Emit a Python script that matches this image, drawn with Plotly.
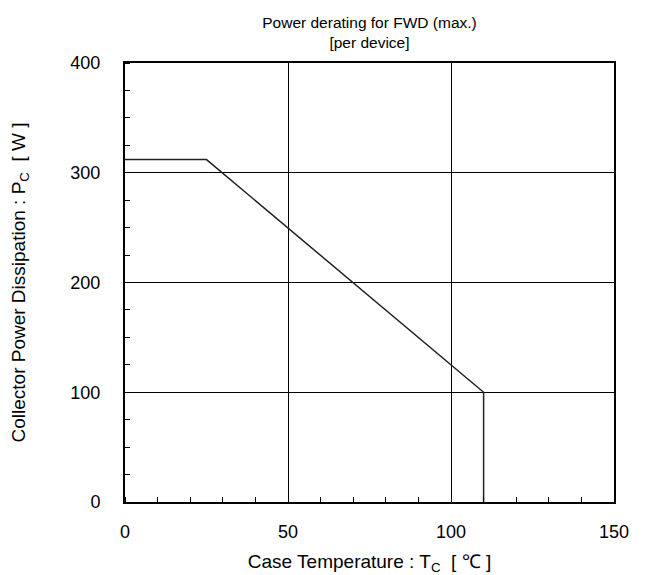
import plotly.graph_objects as go

temp_c = [0, 25, 110, 110]
power_w = [312, 312, 100, 0]
x_ticks = [0, 50, 100, 150]
y_ticks = [0, 100, 200, 300, 400]

fig = go.Figure()
fig.add_trace(go.Scatter(x=temp_c, y=power_w, mode="lines",
                         line=dict(color="#222222", width=1.5), showlegend=False))

font = dict(family="Liberation Sans, Arial, sans-serif", size=16, color="black")
tickfont = dict(family="Liberation Sans, Arial, sans-serif", size=18, color="black")
fig.update_layout(
    width=652, height=575,
    margin=dict(l=125, r=38, t=63, b=73),
    paper_bgcolor="white", plot_bgcolor="white",
    font=font,
    title=dict(text="Power derating for FWD (max.)<br>[per device]", x=0.5667, xanchor="center",
               y=0.952, yanchor="top", font=dict(size=15.5)),
)
fig.update_xaxes(range=[0, 150], tickvals=x_ticks, showgrid=True, gridcolor="black", gridwidth=1,
                 showline=True, linecolor="black", linewidth=2, mirror=True, zeroline=False,
                 ticks="", ticklabelstandoff=12, automargin=False, tickfont=tickfont,
                 minor=dict(dtick=10, ticks="inside", ticklen=5, tickcolor="black", showgrid=False),
                 title=dict(text="Case Temperature : T<sub>C</sub>  [ ℃ ]", standoff=15))
fig.update_yaxes(range=[0, 400], tickvals=y_ticks, showgrid=True, gridcolor="black", gridwidth=1,
                 showline=True, linecolor="black", linewidth=2, mirror=True, zeroline=False,
                 ticks="", ticklabelstandoff=19, automargin=False, tickfont=tickfont,
                 minor=dict(dtick=25, ticks="inside", ticklen=5, tickcolor="black", showgrid=False),
                 title=dict(text="Collector Power Dissipation : P<sub>C</sub>  [ W ]", standoff=40))
fig.write_html("out.html", config={"displayModeBar": False},
               post_script="document.body.style.margin='0';document.body.style.overflow='hidden';")
